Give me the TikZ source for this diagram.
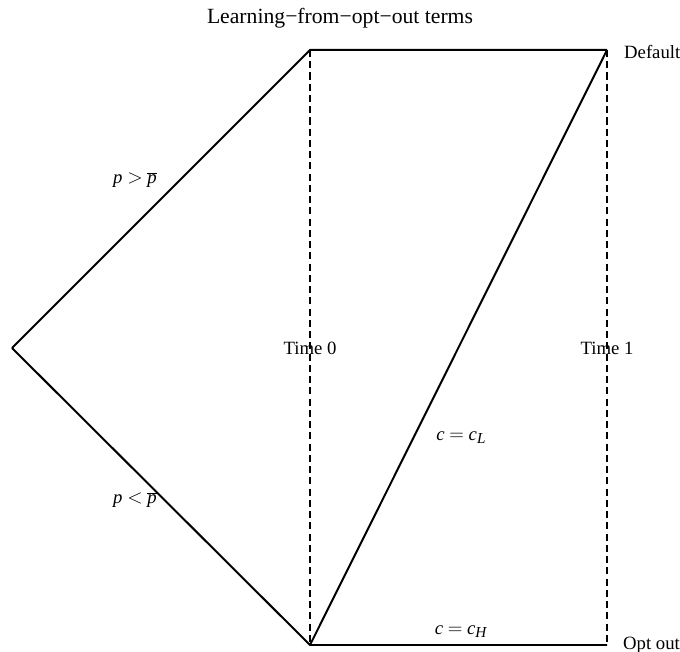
\documentclass[tikz,border=0pt]{standalone}
\usepackage{fontspec}
\setmainfont{Liberation Serif}
\newcommand{\lowsub}[1]{\raisebox{-0.35ex}{\fontsize{13}{15}\selectfont\textit{#1}}}
\begin{document}
\begin{tikzpicture}[x=0.03cm, y=0.03cm, line join=round, line cap=butt, font=\fontsize{16}{19}\selectfont]
	\tikzset{edge/.style={line width=1.7pt}, timeline/.style={line width=1.7pt, dash pattern=on 6pt off 3.6pt}}
	\useasboundingbox (0,0) rectangle (680,652);
	\coordinate (root) at (12,304);
	\coordinate (top0) at (310,602);
	\coordinate (bot0) at (310,7);
	\coordinate (top1) at (607,602);
	\coordinate (bot1) at (607,7);
	% time lines
	\draw[timeline] (top0) -- (bot0);
	\draw[timeline] (top1) -- (bot1);
	% branches
	\draw[edge] (root) -- (top0) -- (top1);
	\draw[edge] (root) -- (bot0) -- (bot1);
	\draw[edge] (bot0) -- (top1);
	\node (title) at (340,634) {\fontsize{18.5}{22}\selectfont Learning−from−opt−out terms};
	\node[anchor=west] (default) at (620,600) {Default};
	\node[anchor=west] (optout) at (619,7) {Opt out};
	\node (time0) at (310,304) {Time 0};
	\node (time1) at (607,304) {Time 1};
	\node (high) at (135,472) {\textit{p} $>$ $\overline{\mbox{\textit{p}}}$};
	\node (low) at (135,152) {\textit{p} $<$ $\overline{\mbox{\textit{p}}}$};
	\node (cl) at (461,214) {\textit{c} $=$ \textit{c}\lowsub{L}};
	\node (ch) at (461,20) {\textit{c} $=$ \textit{c}\lowsub{H}};
\end{tikzpicture}
\end{document}
